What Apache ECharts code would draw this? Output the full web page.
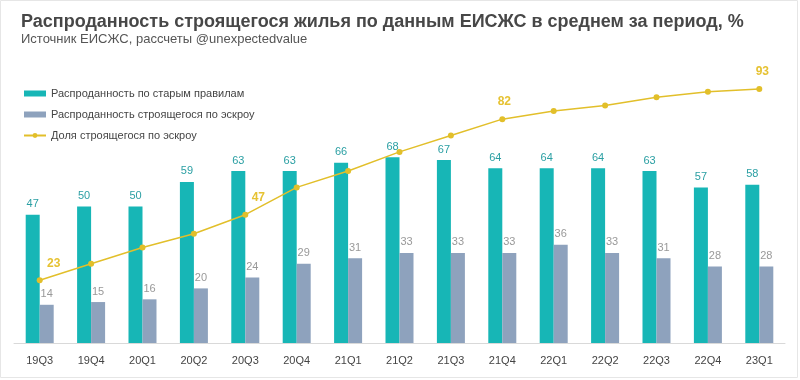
<!DOCTYPE html>
<html><head><meta charset="utf-8">
<script src="https://cdn.jsdelivr.net/npm/echarts@6/dist/echarts.min.js"></script>
<style>html,body{margin:0;padding:0;background:#fff}#c{width:800px;height:380px}</style>
</head><body><div id="c"></div>
<script>
const categories = ['19Q3','19Q4','20Q1','20Q2','20Q3','20Q4','21Q1','21Q2','21Q3','21Q4','22Q1','22Q2','22Q3','22Q4','23Q1'];
const oldRules = [47,50,50,59,63,63,66,68,67,64,64,64,63,57,58];
const escrowSold = [14,15,16,20,24,29,31,33,33,33,36,33,31,28,28];
const escrowShare = [23,29,35,40,47,57,63,70,76,82,85,87,90,92,93];
const labeledShare = ['19Q3','20Q3','21Q4','23Q1'];
const labelShift = {'19Q3':[14,-3],'20Q3':[13,-3],'21Q4':[2,-3],'23Q1':[3,-3]};
const seriesNames = ['Распроданность по старым правилам','Распроданность строящегося по эскроу','Доля строящегося по эскроу'];

const chart = echarts.init(document.getElementById('c'));
chart.setOption({
  animation:false,
  backgroundColor:'#fff',
  textStyle:{fontFamily:'Liberation Sans, Arial, sans-serif'},
  title:{
    text:'Распроданность строящегося жилья по данным ЕИСЖС в среднем за период, %',
    subtext:'Источник ЕИСЖС, рассчеты @unexpectedvalue',
    left:16, top:8, itemGap:2,
    textStyle:{fontSize:18,fontWeight:'bold',color:'#474747'},
    subtextStyle:{fontSize:13,color:'#555'}
  },
  legend:{
    orient:'vertical', left:18, top:83, itemGap:10,
    itemWidth:22, itemHeight:6,
    textStyle:{fontSize:11,color:'#444'},
    data:[
      {name:seriesNames[0], icon:'rect'},
      {name:seriesNames[1], icon:'rect'},
      {name:seriesNames[2]}
    ]
  },
  grid:{left:14,right:15,top:70,bottom:37,containLabel:false},
  xAxis:{
    type:'category', data:categories,
    axisLine:{lineStyle:{color:'#d9d9d9'}},
    axisTick:{show:false},
    axisLabel:{fontSize:11,color:'#444',margin:12}
  },
  yAxis:{type:'value',min:0,max:100,show:false,splitLine:{show:false}},
  series:[
    {name:seriesNames[0],type:'bar',data:oldRules,barWidth:14,barGap:'0%',
     itemStyle:{color:'#17b6b6'},
     label:{show:true,position:'top',fontSize:11,color:'#2a9fa3',distance:5}},
    {name:seriesNames[1],type:'bar',data:escrowSold,barWidth:14,
     itemStyle:{color:'#8ea2bd'},
     label:{show:true,position:'top',fontSize:11,color:'#999',distance:5}},
    {name:seriesNames[2],type:'line',data:escrowShare.map((v,i)=>({
        value:v,
        label:{show:labeledShare.includes(categories[i]),offset:labelShift[categories[i]]||[0,0]}
      })),
     symbol:'circle',symbolSize:6,
     lineStyle:{color:'#e2bf2a',width:1.5},
     itemStyle:{color:'#e2bf2a'},
     label:{position:'top',fontSize:12,fontWeight:'bold',color:'#e6c232'},
     z:5}
  ],
  graphic:[{type:'rect',shape:{x:0.5,y:0.5,width:797,height:377},style:{fill:'none',stroke:'#e6e6e6',lineWidth:1},silent:true}]
});
</script></body></html>
